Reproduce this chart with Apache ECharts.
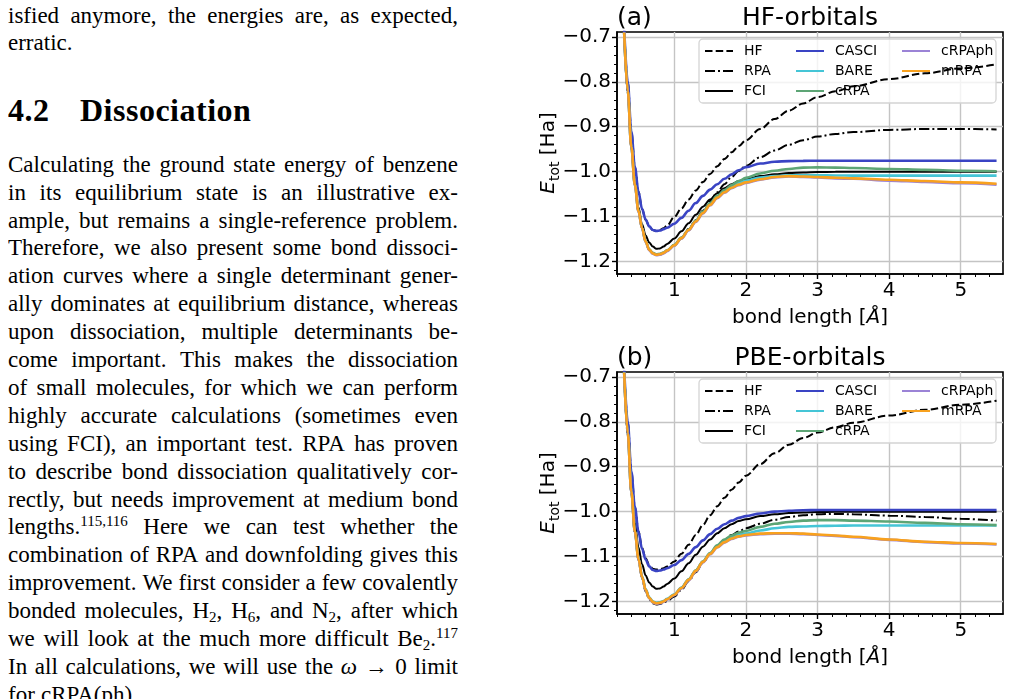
<!DOCTYPE html>
<html>
<head>
<meta charset="utf-8">
<script src="https://cdn.jsdelivr.net/npm/echarts@6/dist/echarts.min.js"></script>
<style>
body { margin: 0; background: #fff; width: 1011px; height: 699px; overflow: hidden; position: relative; }
#text { position: absolute; left: 8px; top: 0; width: 450px; height: 699px; overflow: hidden;
        font-family: "Liberation Serif", "DejaVu Serif", serif; font-size: 23px; color: #000; }
.ln { position: absolute; left: 0; width: 450px; height: 28px; line-height: 28px;
      display: flex; justify-content: space-between; align-items: baseline; white-space: nowrap; }
.ln.left { justify-content: flex-start; }
.ln.left span { margin-right: 0.27em; }
.ln sup { font-size: 15px; position: relative; top: -8px; vertical-align: baseline; }
.ln sub { font-size: 15px; position: relative; top: 4px; vertical-align: baseline; }
.head { position: absolute; top: 91px; font-weight: bold; font-size: 32px; line-height: 38px; letter-spacing: 0.5px; }
#chartA { position: absolute; left: 500px; top: 0; width: 511px; height: 340px; }
#chartB { position: absolute; left: 500px; top: 340px; width: 511px; height: 359px; }
</style>
</head>
<body>
<div id="text"></div>
<div id="chartA"></div>
<div id="chartB"></div>
<script>
// bond length grid (Angstrom) shared by all curves
const bondLength = [0.3, 0.35, 0.4, 0.45, 0.5, 0.55, 0.6, 0.65, 0.7, 0.75, 0.8, 0.85, 0.9, 1.0, 1.1, 1.2, 1.3, 1.4,
    1.5, 1.6, 1.7, 1.8, 1.9, 2.0, 2.2, 2.4, 2.6, 2.8, 3.0, 3.25, 3.5, 4.0, 4.5, 5.0, 5.5];

// FCI does not depend on the orbitals, same in both panels
const fciEnergy = [-0.695, -0.825, -0.945, -1.025, -1.080, -1.117, -1.142, -1.158, -1.167, -1.172, -1.171, -1.167, -1.161,
    -1.149, -1.133, -1.115, -1.096, -1.078, -1.062, -1.048, -1.037, -1.028, -1.021, -1.017, -1.010, -1.006, -1.003,
    -1.002, -1.001, -1.0005, -1.0003, -1.0001, -1.0, -1.0, -1.0];

// (a) HF-orbitals
const hfA = [-0.680, -0.800, -0.910, -0.990, -1.045, -1.083, -1.107, -1.122, -1.130, -1.132, -1.130, -1.126, -1.120,
    -1.101, -1.082, -1.062, -1.042, -1.023, -1.005, -0.988, -0.972, -0.957, -0.943, -0.930, -0.905, -0.883, -0.864,
    -0.848, -0.834, -0.821, -0.810, -0.794, -0.781, -0.770, -0.761];
const rpaA = [-0.690, -0.820, -0.945, -1.030, -1.088, -1.126, -1.156, -1.174, -1.182, -1.185, -1.184, -1.181, -1.176,
    -1.164, -1.147, -1.128, -1.108, -1.087, -1.066, -1.046, -1.028, -1.012, -0.998, -0.987, -0.968, -0.953, -0.940,
    -0.930, -0.922, -0.916, -0.912, -0.907, -0.905, -0.905, -0.906];
const casciA = [-0.680, -0.800, -0.910, -0.990, -1.045, -1.083, -1.107, -1.122, -1.130, -1.132, -1.131, -1.128, -1.125,
    -1.116, -1.103, -1.087, -1.070, -1.054, -1.040, -1.028, -1.016, -1.006, -0.997, -0.990, -0.982, -0.978, -0.9765,
    -0.976, -0.9758, -0.9757, -0.9756, -0.9756, -0.9756, -0.9756, -0.9756];
const bareA = [-0.690, -0.820, -0.945, -1.030, -1.088, -1.126, -1.156, -1.174, -1.182, -1.185, -1.184, -1.181, -1.176,
    -1.164, -1.148, -1.130, -1.110, -1.091, -1.072, -1.056, -1.043, -1.033, -1.025, -1.020, -1.013, -1.010, -1.008,
    -1.008, -1.008, -1.0085, -1.0088, -1.009, -1.009, -1.009, -1.009];
const crpaA = [-0.690, -0.820, -0.944, -1.029, -1.087, -1.125, -1.155, -1.173, -1.181, -1.184, -1.183, -1.180, -1.175,
    -1.163, -1.147, -1.129, -1.109, -1.089, -1.070, -1.054, -1.041, -1.030, -1.021, -1.014, -1.004, -0.998, -0.994,
    -0.991, -0.9905, -0.991, -0.992, -0.994, -0.996, -0.998, -0.999];
const crpaphA = [-0.690, -0.821, -0.946, -1.031, -1.089, -1.127, -1.157, -1.175, -1.183, -1.186, -1.185, -1.182, -1.177,
    -1.165, -1.149, -1.131, -1.112, -1.093, -1.075, -1.059, -1.047, -1.037, -1.030, -1.025, -1.018, -1.013, -1.011,
    -1.012, -1.013, -1.015, -1.016, -1.020, -1.023, -1.026, -1.029];
const mrpaA = [-0.690, -0.820, -0.945, -1.030, -1.088, -1.126, -1.156, -1.174, -1.182, -1.185, -1.184, -1.181, -1.176,
    -1.164, -1.148, -1.130, -1.111, -1.092, -1.074, -1.058, -1.046, -1.036, -1.029, -1.024, -1.017, -1.012, -1.010,
    -1.011, -1.012, -1.0135, -1.015, -1.018, -1.021, -1.024, -1.027];

// (b) PBE-orbitals
const hfB = [-0.680, -0.800, -0.910, -0.990, -1.044, -1.081, -1.104, -1.119, -1.127, -1.129, -1.128, -1.126, -1.122,
    -1.111, -1.094, -1.074, -1.052, -1.030, -1.008, -0.988, -0.969, -0.951, -0.935, -0.920, -0.894, -0.870, -0.851,
    -0.836, -0.824, -0.812, -0.802, -0.786, -0.773, -0.762, -0.753];
const rpaB = [-0.692, -0.828, -0.958, -1.048, -1.108, -1.148, -1.177, -1.195, -1.204, -1.207, -1.206, -1.203, -1.199,
    -1.189, -1.174, -1.155, -1.135, -1.114, -1.094, -1.077, -1.063, -1.052, -1.044, -1.037, -1.027, -1.018, -1.012,
    -1.008, -1.006, -1.005, -1.006, -1.009, -1.012, -1.016, -1.020];
const casciB = [-0.680, -0.800, -0.910, -0.990, -1.045, -1.083, -1.107, -1.122, -1.130, -1.132, -1.131, -1.129, -1.126,
    -1.119, -1.108, -1.094, -1.079, -1.064, -1.050, -1.038, -1.028, -1.020, -1.014, -1.010, -1.004, -1.000, -0.998,
    -0.997, -0.9965, -0.9963, -0.9963, -0.9963, -0.9963, -0.9963, -0.9963];
const bareB = [-0.689, -0.824, -0.954, -1.044, -1.104, -1.144, -1.173, -1.191, -1.200, -1.203, -1.202, -1.199, -1.194,
    -1.184, -1.169, -1.151, -1.131, -1.111, -1.093, -1.077, -1.065, -1.057, -1.052, -1.049, -1.042, -1.037, -1.034,
    -1.033, -1.032, -1.0315, -1.031, -1.031, -1.031, -1.031, -1.031];
const crpaB = [-0.690, -0.825, -0.955, -1.045, -1.105, -1.145, -1.174, -1.192, -1.201, -1.204, -1.203, -1.200, -1.195,
    -1.185, -1.170, -1.151, -1.131, -1.111, -1.092, -1.075, -1.062, -1.053, -1.047, -1.043, -1.034, -1.027, -1.023,
    -1.020, -1.019, -1.019, -1.020, -1.022, -1.025, -1.028, -1.030];
const crpaphB = [-0.691, -0.826, -0.956, -1.046, -1.106, -1.146, -1.175, -1.193, -1.202, -1.205, -1.204, -1.201, -1.196,
    -1.186, -1.171, -1.153, -1.133, -1.113, -1.095, -1.080, -1.069, -1.061, -1.056, -1.053, -1.050, -1.049, -1.049,
    -1.050, -1.052, -1.054, -1.057, -1.063, -1.068, -1.071, -1.073];
const mrpaB = [-0.690, -0.825, -0.955, -1.045, -1.105, -1.145, -1.174, -1.192, -1.201, -1.204, -1.203, -1.200, -1.195,
    -1.185, -1.170, -1.152, -1.132, -1.112, -1.094, -1.079, -1.068, -1.060, -1.055, -1.052, -1.049, -1.048, -1.048,
    -1.049, -1.051, -1.053, -1.056, -1.062, -1.067, -1.070, -1.072];

const xTicks = [1, 2, 3, 4, 5];
const yTicks = [-1.2, -1.1, -1.0, -0.9, -0.8, -0.7];
const seriesNames = ['HF', 'RPA', 'FCI', 'CASCI', 'BARE', 'cRPA', 'cRPAph', 'mRPA'];

const lineStyles = {
    HF: {color: '#000000', width: 2, type: [7.5, 3.2]},
    RPA: {color: '#000000', width: 2, type: [10, 3, 2, 3]},
    FCI: {color: '#000000', width: 2, type: 'solid'},
    CASCI: {color: '#3a44c4', width: 2.6, type: 'solid'},
    BARE: {color: '#45c5d6', width: 2.6, type: 'solid'},
    cRPA: {color: '#5da575', width: 2.6, type: 'solid'},
    cRPAph: {color: '#9b83d6', width: 2.6, type: 'solid'},
    mRPA: {color: '#f8a11e', width: 2.6, type: 'solid'}
};

// minor tick positions
let xMinor = [];
for (let v = 0.2; v < 5.59; v += 0.2) xMinor.push(+v.toFixed(2));
let yMinor = [];
for (let v = -1.22; v < -0.69; v += 0.02) yMinor.push(+v.toFixed(2));

const FONT = 'DejaVu Sans';
const xMin = 0.2, xMax = 5.59, yMin = -1.228, yMax = -0.689;
const GX = 117;   // left edge of the plot inside each chart div

function buildOption(tag, title, values) {
    let series = seriesNames.map(function (name, i) {
        let st = lineStyles[name];
        return {
            name: name,
            type: 'line',
            data: bondLength.map(function (x, k) { return [x, values[i][k]]; }),
            symbol: 'none',
            showSymbol: false,
            smooth: 0.35,
            smoothMonotone: 'x',
            lineStyle: {color: st.color, width: st.width, type: st.type, cap: 'butt'},
            itemStyle: {color: st.color},
            clip: true
        };
    });
    let legendBase = {
        orient: 'vertical', top: 44, padding: 0, itemWidth: 28, itemHeight: 14, itemGap: 6,
        selectedMode: false, itemStyle: {opacity: 0},
        textStyle: {fontFamily: FONT, fontSize: 14, color: '#000', padding: [0, 0, 0, 6]}
    };
    return {
        animation: false,
        backgroundColor: 'transparent',
        grid: {left: GX, top: 32, width: 386, height: 242, show: true, borderColor: '#000', borderWidth: 1.6,
            backgroundColor: 'transparent', containLabel: false, outerBoundsMode: 'none'},
        legend: [
            Object.assign({}, legendBase, {left: GX + 87, data: ['HF', 'RPA', 'FCI']}),
            Object.assign({}, legendBase, {left: GX + 178, data: ['CASCI', 'BARE', 'cRPA']}),
            Object.assign({}, legendBase, {left: GX + 284, data: ['cRPAph', 'mRPA']})
        ],
        graphic: {
            z: 3,
            elements: [
                {type: 'rect', z: 3, shape: {x: GX + 82, y: 39, width: 297, height: 64, r: 4},
                    style: {fill: 'rgba(255,255,255,0.8)', stroke: '#d4d4d4', lineWidth: 1.3}},
                {type: 'text', z: 3, x: GX, y: 18.5,
                    style: {text: tag, font: '25px "DejaVu Sans"', fill: '#000', align: 'left', verticalAlign: 'middle'}},
                {type: 'text', z: 3, x: GX + 193, y: 18.5,
                    style: {text: title, font: '25px "DejaVu Sans"', fill: '#000', align: 'center', verticalAlign: 'middle'}}
            ]
        },
        xAxis: [
            {
                type: 'value', scale: true, min: xMin, max: xMax, position: 'bottom',
                name: '{n|bond length [}{i|Å}{n|]}', nameLocation: 'middle', nameGap: 34, nameMoveOverlap: false,
                nameTextStyle: {rich: {
                    n: {fontFamily: FONT, fontSize: 20, color: '#000'},
                    i: {fontFamily: FONT, fontSize: 20, color: '#000', fontStyle: 'italic'}
                }},
                axisLine: {show: true, onZero: false, lineStyle: {color: '#000', width: 1.6}},
                axisTick: {show: true, customValues: xTicks, length: 5, lineStyle: {color: '#000', width: 1.4}},
                axisLabel: {customValues: xTicks, margin: 7, fontFamily: FONT, fontSize: 20, color: '#000'},
                splitLine: {show: true, lineStyle: {color: '#c4c4c4', width: 1.4}}
            },
            {
                type: 'value', scale: true, min: xMin, max: xMax, position: 'bottom',
                axisLine: {show: false, onZero: false},
                axisTick: {show: true, customValues: xMinor, length: 3, lineStyle: {color: '#000', width: 1}},
                axisLabel: {show: false},
                splitLine: {show: false}
            }
        ],
        yAxis: [
            {
                type: 'value', scale: true, min: yMin, max: yMax, position: 'left',
                name: '{e|E}{s|tot}{n| [Ha]}', nameLocation: 'middle', nameRotate: 90, nameGap: 55,
                nameMoveOverlap: false,
                nameTextStyle: {rich: {
                    e: {fontFamily: FONT, fontSize: 20, color: '#000', fontStyle: 'italic', lineHeight: 26},
                    s: {fontFamily: FONT, fontSize: 14, color: '#000', verticalAlign: 'bottom', lineHeight: 14},
                    n: {fontFamily: FONT, fontSize: 20, color: '#000', lineHeight: 26}
                }},
                axisLine: {show: true, onZero: false, lineStyle: {color: '#000', width: 1.6}},
                axisTick: {show: true, customValues: yTicks, length: 5, lineStyle: {color: '#000', width: 1.4}},
                axisLabel: {customValues: yTicks, margin: 6, fontFamily: FONT, fontSize: 20, color: '#000',
                    formatter: function (v) { return v.toFixed(1).replace('-', '\u2212'); }},
                splitLine: {show: true, lineStyle: {color: '#c4c4c4', width: 1.4}}
            },
            {
                type: 'value', scale: true, min: yMin, max: yMax, position: 'left',
                axisLine: {show: false, onZero: false},
                axisTick: {show: true, customValues: yMinor, length: 3, lineStyle: {color: '#000', width: 1}},
                axisLabel: {show: false},
                splitLine: {show: false}
            }
        ],
        series: series
    };
}

let chartA = echarts.init(document.getElementById('chartA'));
chartA.setOption(buildOption('(a)', 'HF-orbitals',
    [hfA, rpaA, fciEnergy, casciA, bareA, crpaA, crpaphA, mrpaA]));
let chartB = echarts.init(document.getElementById('chartB'));
chartB.setOption(buildOption('(b)', 'PBE-orbitals',
    [hfB, rpaB, fciEnergy, casciB, bareB, crpaB, crpaphB, mrpaB]));

// body text of the page, one entry per printed line
const textLines = [
    [18, 'isfied anymore, the energies are, as expected,', true],
    [45, 'erratic.', false],
    [166.7, 'Calculating the ground state energy of benzene', true],
    [194.6, 'in its equilibrium state is an illustrative ex-', true],
    [222.5, 'ample, but remains a single-reference problem.', true],
    [250.4, 'Therefore, we also present some bond dissoci-', true],
    [278.3, 'ation curves where a single determinant gener-', true],
    [306.2, 'ally dominates at equilibrium distance, whereas', true],
    [334.1, 'upon dissociation, multiple determinants be-', true],
    [362.0, 'come important. This makes the dissociation', true],
    [389.9, 'of small molecules, for which we can perform', true],
    [417.8, 'highly accurate calculations (sometimes even', true],
    [445.7, 'using FCI), an important test. RPA has proven', true],
    [473.6, 'to describe bond dissociation qualitatively cor-', true],
    [501.5, 'rectly, but needs improvement at medium bond', true],
    [529.4, 'lengths.<sup>115,116</sup> Here we can test whether the', true],
    [557.3, 'combination of RPA and downfolding gives this', true],
    [585.2, 'improvement. We first consider a few covalently', true],
    [613.1, 'bonded molecules, H<sub>2</sub>, H<sub>6</sub>, and N<sub>2</sub>, after which', true],
    [641.0, 'we will look at the much more difficult Be<sub>2</sub>.<sup>117</sup>', true],
    [668.9, 'In all calculations, we will use the <i>ω</i> → 0 limit', true],
    [696.8, 'for cRPA(ph).', false]
];
let textEl = document.getElementById('text');
for (let i in textLines) {
    let line = textLines[i];
    let div = document.createElement('div');
    div.className = line[2] ? 'ln' : 'ln left';
    div.style.top = (line[0] - 16) + 'px';
    div.innerHTML = line[1].split(' ').map(function (w) { return '<span>' + w + '</span>'; }).join('');
    textEl.appendChild(div);
}
let headNum = document.createElement('div');
headNum.className = 'head';
headNum.style.left = '0px';
headNum.innerHTML = '4.2';
textEl.appendChild(headNum);
let headText = document.createElement('div');
headText.className = 'head';
headText.style.left = '72px';
headText.innerHTML = 'Dissociation';
textEl.appendChild(headText);
</script>
</body>
</html>
